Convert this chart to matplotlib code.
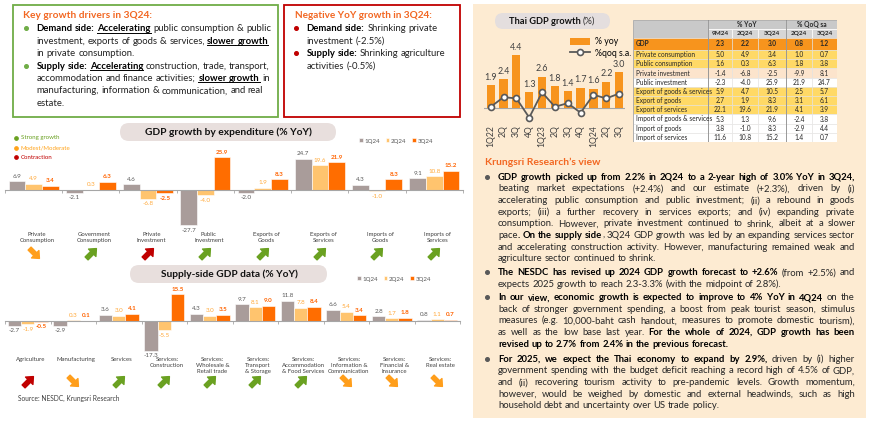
import numpy as np
import matplotlib
matplotlib.use("Agg")
import matplotlib.pyplot as plt
from matplotlib.patches import Rectangle, FancyBboxPatch
from matplotlib.path import Path
from matplotlib.markers import MarkerStyle
from matplotlib.transforms import Affine2D, blended_transform_factory
from matplotlib.font_manager import FontProperties

FONT = ["Lato", "DejaVu Sans"]
plt.rcParams["font.family"] = FONT

# ---------------- data ----------------
quarters = ["1Q24", "2Q24", "3Q24"]

exp_cats = ["Private\nConsumption", "Government\nConsumption", "Private\nInvestment",
            "Public\nInvestment", "Exports of\nGoods", "Exports of\nServices",
            "Imports of\nGoods", "Imports of\nServices"]
exp_1q = [6.9, -2.1, 4.6, -27.7, -2.0, 24.7, 4.3, 9.1]
exp_2q = [4.9, 0.3, -6.8, -4.0, 1.9, 19.6, -1.0, 10.8]
exp_3q = [3.4, 6.3, -2.5, 25.9, 8.3, 21.9, 8.3, 15.2]
exp_trend = ["moderate", "strong", "contraction", "strong", "strong", "strong", "strong", "strong"]

sup_cats = ["Agriculture", "Manufacturing", "Services", "Services:\nConstruction",
            "Services:\nWholesale &\nRetail trade", "Services:\nTransport\n& Storage",
            "Services:\nAccommodation\n& Food Services", "Services:\nInformation &\nCommunication",
            "Services:\nFinancial &\nInsurance", "Services:\nReal estate"]
sup_1q = [-2.7, -2.9, 3.6, -17.3, 4.3, 9.7, 11.8, 6.6, 2.8, 0.8]
sup_2q = [-1.9, 0.3, 3.0, -5.5, 3.0, 8.1, 7.8, 5.4, 1.7, 1.1]
sup_3q = [-0.5, 0.1, 4.1, 15.5, 3.5, 9.0, 8.4, 3.4, 1.8, 0.7]
sup_trend = ["contraction", "moderate", "strong", "strong", "strong", "strong", "strong",
             "moderate", "moderate", "moderate"]

gdp_q = ["1Q22", "2Q", "3Q", "4Q", "1Q23", "2Q", "3Q", "4Q", "1Q24", "2Q", "3Q"]
gdp_yoy = [1.9, 2.4, 4.4, 1.3, 2.6, 1.8, 1.4, 1.7, 1.6, 2.2, 3.0]
gdp_qoq = [0.1, 0.9, 0.8, -0.8, 1.3, 0.1, 0.4, -0.4, 1.1, 0.8, 1.2]

tbl_rows = ["GDP", "Private consumption", "Public consumption", "Private investment",
            "Public investment", "Export of goods & services", "Export of goods",
            "Export of services", "Import of goods & services", "Import of goods",
            "Import of services"]
tbl_cols = ["9M24", "2Q24", "3Q24", "2Q24", "3Q24"]
yoy_9m = [2.3, 5.0, 1.6, -1.4, -2.3, 5.9, 2.7, 22.1, 5.3, 3.8, 11.6]
yoy_2q = [2.2, 4.9, 0.3, -6.8, -4.0, 4.7, 1.9, 19.6, 1.3, -1.0, 10.8]
yoy_3q = [3.0, 3.4, 6.3, -2.5, 25.9, 10.5, 8.3, 21.9, 9.6, 8.3, 15.2]
qoq_2q = [0.8, 1.0, 1.8, -9.9, 21.9, 2.5, 3.1, 4.1, -2.4, -2.9, 1.4]
qoq_3q = [1.2, 0.7, 3.8, 8.1, 24.7, 5.7, 6.1, 3.9, 3.8, 4.4, 0.7]

green_title = "Key growth drivers in 3Q24:"
green_lines = [
    "**Demand side:** __**Accelerating**__ public consumption & public",
    "investment, exports of goods & services,  __**slower growth**__",
    "in private consumption.",
    "**Supply side:** __**Accelerating**__ construction, trade, transport,",
    "accommodation and finance activities; __**slower growth**__ in",
    "manufacturing, information & communication, and real",
    "estate.",
]
red_title = "Negative YoY growth in 3Q24:"
red_lines = [
    "**Demand side:** Shrinking private",
    "investment (-2.5%)",
    "**Supply side:** Shrinking agriculture",
    "activities (-0.5%)",
]

view_title = "Krungsri Research\u2019s view"
view_paras = [
    ["**GDP growth picked up from 2.2% in 2Q24 to a 2-year high of 3.0% YoY in 3Q24,**",
     "beating market expectations (+2.4%) and our estimate (+2.3%), driven by (i)",
     "accelerating public consumption and public investment; (ii) a rebound in goods",
     "exports; (iii) a further recovery in services exports; and (iv) expanding private",
     "consumption. However, private investment continued to shrink, albeit at a slower",
     "pace**. On the supply side**, 3Q24 GDP growth was led by an expanding services sector",
     "and accelerating construction activity. However, manufacturing remained weak and",
     "agriculture sector continued to shrink."],
    ["**The NESDC has revised up 2024 GDP growth forecast to +2.6%** (from +2.5%) and",
     "expects 2025 growth to reach 2.3-3.3% (with the midpoint of 2.8%)."],
    ["**In our view, economic growth is expected to improve to 4% YoY in 4Q24** on the",
     "back of stronger government spending, a boost from peak tourist season, stimulus",
     "measures (e.g. 10,000-baht cash handout, measures to promote domestic tourism),",
     "as well as the low base last year. **For the whole of 2024, GDP growth has been**",
     "**revised up to 2.7% from 2.4% in the previous forecast.**"],
    ["**For 2025, we expect the Thai economy to expand by 2.9%,** driven by (i) higher",
     "government spending with the budget deficit reaching a record high of 4.5% of GDP,",
     "and (ii) recovering tourism activity to pre-pandemic levels. Growth momentum,",
     "however, would be weighed by domestic and external headwinds, such as high",
     "household debt and uncertainty over US trade policy."],
]

# ---------------- styles ----------------
C1, C2, C3 = "#A99C9A", "#FFC46E", "#FF6D00"
L1, L2, L3 = "#595959", "#FFA93A", "#FF6300"
TREND = {"strong": ("#6AA121", 45), "moderate": ("#FF9E1B", -45), "contraction": ("#C00000", 45)}
ORANGE_T = "#F26722"
TXT = "#222222"
PILL = "#E8DFDD"

W, H = 870, 422
fig = plt.figure(figsize=(W / 100, H / 100), dpi=100)
ov = fig.add_axes([0, 0, 1, 1], zorder=0)
ov.set_xlim(0, W)
ov.set_ylim(H, 0)
ov.axis("off")
renderer = fig.canvas.get_renderer()


def px_axes(x0, y0, x1, y1):
    a = fig.add_axes([x0 / W, 1 - y1 / H, (x1 - x0) / W, (y1 - y0) / H], zorder=2)
    a.set_facecolor("none")
    return a


def tw(s, bold, size):
    fp = FontProperties(family=FONT, size=size, weight="bold" if bold else "normal")
    w, h, d = renderer.get_text_width_height_descent(s, fp, ismath=False)
    return w


def space_w(size):
    return tw("a a", False, size) - tw("aa", False, size)


def parse(line):
    words, cur, buf = [], [], ""
    bold = ul = False
    i = 0
    while i < len(line):
        two = line[i:i + 2]
        if two in ("**", "__"):
            if buf:
                cur.append((buf, bold, ul))
                buf = ""
            if two == "**":
                bold = not bold
            else:
                ul = not ul
            i += 2
            continue
        ch = line[i]
        if ch == " ":
            if buf:
                cur.append((buf, bold, ul))
                buf = ""
            if cur:
                words.append(cur)
                cur = []
        else:
            buf += ch
        i += 1
    if buf:
        cur.append((buf, bold, ul))
    if cur:
        words.append(cur)
    return words


def natural(line, size):
    words = parse(line)
    return sum(tw(t, b, size) for w in words for t, b, u in w) + space_w(size) * (len(words) - 1)


def fit(text, bold, target, base=8.0):
    return base * target / tw(text, bold, base)


def draw_markup(x, y, line, size, color=TXT, width=None):
    words = parse(line)
    ws = [sum(tw(t, b, size) for t, b, u in w) for w in words]
    gap = space_w(size)
    if width and len(words) > 1:
        gap = (width - sum(ws)) / (len(words) - 1)
    base = y + 0.3 * size * 100 / 72
    cx = x
    for k, w in enumerate(words):
        for t, b, u in w:
            wd = tw(t, b, size)
            ov.text(cx, base, t, fontsize=size, weight="bold" if b else "normal",
                    color="black" if b else color, ha="left", va="baseline")
            if u:
                ov.plot([cx, cx + wd], [base + 1.4] * 2, color="black", lw=0.7)
            cx += wd
        if k < len(words) - 1:
            if w[-1][2] and words[k + 1][0][2]:
                ov.plot([cx, cx + gap], [base + 1.4] * 2, color="black", lw=0.7)
            cx += gap


def pill(x0, y0, x1, y1, color=PILL):
    h = y1 - y0
    ov.add_patch(FancyBboxPatch((x0, y0), x1 - x0, h,
                                boxstyle=f"round,pad=0,rounding_size={h / 2}",
                                fc=color, ec="none"))


arrow_path = Path([(-1, -0.3), (0.15, -0.3), (0.15, -0.75), (1, 0), (0.15, 0.75),
                   (0.15, 0.3), (-1, 0.3), (-1, -0.3)],
                  [Path.MOVETO] + [Path.LINETO] * 6 + [Path.CLOSEPOLY])


def arrow_marker(angle):
    return MarkerStyle(arrow_path, transform=Affine2D().rotate_deg(angle))


# ---------------- top-left boxes ----------------
ov.add_patch(Rectangle((13, 5), 265, 112, fc="white", ec="#70AD47", lw=1.3))
ov.add_patch(Rectangle((284, 5), 176, 112, fc="white", ec="#C00000", lw=1.3))

s = fit(green_title, True, 129)
ov.text(23, 15.5, green_title, fontsize=s, weight="bold", color=ORANGE_T, va="center")
s = fit(red_title, True, 138)
ov.text(295, 15.5, red_title, fontsize=s, weight="bold", color=ORANGE_T, va="center")

box_size = min(8 * 235 / max(natural(l, 8) for l in green_lines),
               8 * 140 / max(natural(l, 8) for l in red_lines))
gy = [28.3, 40.7, 52.9, 65.7, 78.1, 90.5, 102.7]
for y, line in zip(gy, green_lines):
    draw_markup(36.7, y, line, box_size)
ov.plot([25.7, 25.7], [gy[0], gy[3]], "o", ms=2.6, color="#70AD47", ls="none")
for y, line in zip(gy, red_lines):
    draw_markup(306.7, y, line, box_size)
ov.plot([296, 296], [gy[0], gy[2]], "o", ms=2.6, color="#C00000", ls="none")

# ---------------- right beige panel ----------------
ov.add_patch(Rectangle((473, 4), 393, 414, fc="#FDEBD2", ec="none", zorder=0))
pill(495, 13, 610, 29, "#E4DEDE")
s = fit("Thai GDP growth (%)", True, 87)
ov.text(509, 21.5, "Thai GDP growth ", fontsize=s, weight="bold", color="#111111", va="center")
ov.text(509 + tw("Thai GDP growth ", True, s), 21.5, "(%)", fontsize=s, color="#333333", va="center")

# Thai GDP chart
g = px_axes(484.3, 40, 625.5, 122)
xg = np.arange(len(gdp_q))
yb = g.bar(xg, gdp_yoy, 0.64, color="#F7941D", zorder=2)
ql, = g.plot(xg, gdp_qoq, color="#595959", lw=1.3, marker="o", ms=4.3, mfc="white",
             mec="#595959", mew=1.2, zorder=3)
for xi, v in zip(xg, gdp_yoy):
    g.annotate(f"{v:.1f}", (xi, v), xytext=(0, 2.5), textcoords="offset points",
               ha="center", va="bottom", fontsize=6.4, color="#404040")
g.axhline(0, color="#A6A6A6", lw=0.8, zorder=1)
g.set_xlim(-0.5, len(gdp_q) - 0.5)
g.set_ylim(-1.17, 5.67)
g.set_xticks(xg, gdp_q, rotation=90, fontsize=6.2, color="#404040")
g.tick_params(axis="x", length=0, pad=2)
g.set_yticks([])
for sp in g.spines.values():
    sp.set_visible(False)
g.legend([yb, ql], ["% yoy", "%qoq s.a."], loc="upper left", bbox_to_anchor=(566, 33),
         bbox_transform=ov.transData, fontsize=6.3, frameon=False, handlelength=2.3,
         handleheight=0.9, labelspacing=0.25, borderpad=0, handletextpad=0.5)

# table
tb = px_axes(633, 20, 837, 142)
col_w = [75, 24, 26, 28, 26, 25]
row_h = [9, 9, 12] + [9.2] * 10
col_x = np.concatenate([[0], np.cumsum(col_w)])
row_y = np.concatenate([[0], np.cumsum(row_h)])
tb.set_xlim(0, col_x[-1])
tb.set_ylim(row_y[-1], 0)
tb.axis("off")
HDR = "#C9C9C9"
GOLD = "#FFD966"
row_fill = ["#F7941D", GOLD, GOLD, "#FCE4CC", "white", GOLD, GOLD, GOLD, "white", "white", "white"]
tb.add_patch(Rectangle((0, 0), col_w[0], row_h[0] + row_h[1], fc=HDR, ec="white", lw=0.5))
tb.add_patch(Rectangle((col_x[1], 0), col_x[4] - col_x[1], row_h[0], fc=HDR, ec="white", lw=0.5))
tb.add_patch(Rectangle((col_x[4], 0), col_x[6] - col_x[4], row_h[0], fc=HDR, ec="white", lw=0.5))
tb.text((col_x[1] + col_x[4]) / 2, row_h[0] / 2, "% YoY", ha="center", va="center",
        fontsize=4.8, weight="bold", color="#262626")
tb.text((col_x[4] + col_x[6]) / 2, row_h[0] / 2, "% QoQ sa", ha="center", va="center",
        fontsize=4.8, weight="bold", color="#262626")
for j, c in enumerate(tbl_cols):
    tb.add_patch(Rectangle((col_x[j + 1], row_y[1]), col_w[j + 1], row_h[1], fc="#D6D6D6",
                           ec="white", lw=0.5))
    tb.text(col_x[j + 1] + col_w[j + 1] / 2, row_y[1] + row_h[1] / 2, c, ha="center",
            va="center", fontsize=4.6, weight="bold", color="#262626")
table_vals = [yoy_9m, yoy_2q, yoy_3q, qoq_2q, qoq_3q]
for r, name in enumerate(tbl_rows):
    y0 = row_y[r + 2]
    h = row_h[r + 2]
    wt = "bold" if r == 0 else "normal"
    for j in range(6):
        tb.add_patch(Rectangle((col_x[j], y0), col_w[j], h, fc=row_fill[r], ec="#E3E3E3", lw=0.4))
    tb.text(3, y0 + h / 2, name, ha="left", va="center", fontsize=4.7, weight=wt, color="#262626")
    for j, vals in enumerate(table_vals):
        tb.text(col_x[j + 1] + col_w[j + 1] / 2, y0 + h / 2, f"{vals[r]:.1f}", ha="center",
                va="center", fontsize=4.7, weight=wt, color="#262626")
tb.plot([col_x[1]] * 2, [0, row_y[-1]], color="#8C8C8C", lw=0.6)
tb.plot([col_x[4]] * 2, [0, row_y[-1]], color="#8C8C8C", lw=0.6)
tb.add_patch(Rectangle((0, 0), col_x[-1], row_y[-1], fc="none", ec="#A6A6A6", lw=0.6))

# Krungsri view text
s = fit(view_title, True, 116)
ov.text(485, 162, view_title, fontsize=s, weight="bold", color=ORANGE_T, va="center")
justified = [l for p in view_paras for l in p[:-1]]
body = 8 * 357 / max(natural(l, 8) for l in justified) * 0.995
para_y = [177, 272.3, 297.3, 359]
for y0, para in zip(para_y, view_paras):
    ov.plot(487.5, y0, "o", ms=2.6, color="#595959")
    for k, line in enumerate(para):
        last = k == len(para) - 1
        draw_markup(498, y0 + k * 11.62, line, body, color="#262626",
                    width=None if last else 357)


# ---------------- left bar charts ----------------
def bar_panel(ax, cats, q1, q2, q3, trend, label_top, arrow_y, ylim):
    x = np.arange(len(cats))
    bw = 0.29
    handles = []
    for k, (vals, col, lcol, wt) in enumerate([(q1, C1, L1, "normal"), (q2, C2, L2, "normal"),
                                              (q3, C3, L3, "bold")]):
        xs = x + (k - 1) * bw
        handles.append(ax.bar(xs, vals, bw, color=col, edgecolor="white", lw=0.4, zorder=2))
        for xi, v in zip(xs, vals):
            ax.annotate(f"{v:.1f}", (xi, v), xytext=(0, 1.8 if v >= 0 else -1.8),
                        textcoords="offset points", ha="center",
                        va="bottom" if v >= 0 else "top", fontsize=4.5, color=lcol, weight=wt)
    ax.set_xlim(-0.5, len(cats) - 0.5)
    ax.set_ylim(*ylim)
    for side in ["top", "left", "right"]:
        ax.spines[side].set_visible(False)
    ax.spines["bottom"].set_position(("data", 0))
    ax.spines["bottom"].set_color("#A6A6A6")
    ax.spines["bottom"].set_linewidth(0.8)
    ax.set_xticks(np.arange(len(cats) + 1) - 0.5, [""] * (len(cats) + 1))
    ax.tick_params(axis="x", length=2, color="#A6A6A6", width=0.6)
    ax.set_yticks([])
    blend = blended_transform_factory(ax.transData, ov.transData)
    for i, c in enumerate(cats):
        ax.text(i + 0.06, label_top, c, transform=blend, ha="center", va="top", fontsize=4.3,
                color="#404040", linespacing=1.2, clip_on=False)
        col, ang = TREND[trend[i]]
        ax.plot(i, arrow_y, marker=arrow_marker(ang), ms=10, color=col, mec=col,
                transform=blend, clip_on=False, ls="none")
    return handles


pill(120, 123, 336, 141)
s = fit("GDP growth by expenditure (% YoY)", True, 167)
ov.text(228, 132, "GDP growth by expenditure (% YoY)", fontsize=s, weight="bold",
        color="#111111", ha="center", va="center")
ea = px_axes(5, 145, 463, 232)
hs = bar_panel(ea, exp_cats, exp_1q, exp_2q, exp_3q, exp_trend, 232, 253,
               (-42 / 1.27, 45 / 1.27))
ea.legend(hs, quarters, ncol=3, loc="center left", bbox_to_anchor=(356, 141),
          bbox_transform=ov.transData, fontsize=4.4, frameon=False, handlelength=0.6,
          handleheight=0.6, columnspacing=0.9, handletextpad=0.3, borderpad=0,
          labelcolor="#595959")

leg_items = [("Strong growth", "#6AA121"), ("Modest/Moderate", "#FFA31A"), ("Contraction", "#C00000")]
for k, (lab, col) in enumerate(leg_items):
    yy = 138 + k * 9.6
    ov.plot(15.7, yy, "o", ms=2.4, color=col)
    ov.text(20.7, yy, lab, fontsize=4.4, color=col, va="center")

pill(130, 265, 327, 283)
s = fit("Supply-side GDP data (% YoY)", True, 138)
ov.text(229, 274, "Supply-side GDP data (% YoY)", fontsize=s, weight="bold",
        color="#111111", ha="center", va="center")
sa = px_axes(5, 285, 460, 355)
hs = bar_panel(sa, sup_cats, sup_1q, sup_2q, sup_3q, sup_trend, 357, 381,
               (-34 / 1.72, 36 / 1.72))
sa.legend(hs, quarters, ncol=3, loc="center left", bbox_to_anchor=(354, 279),
          bbox_transform=ov.transData, fontsize=4.4, frameon=False, handlelength=0.6,
          handleheight=0.6, columnspacing=0.9, handletextpad=0.3, borderpad=0,
          labelcolor="#595959")

s = fit("Source: NESDC, Krungsri Research", False, 102)
ov.text(18, 398, "Source: NESDC, Krungsri Research", fontsize=s, color="#404040", va="center")

fig.savefig("out.png", dpi=100)
